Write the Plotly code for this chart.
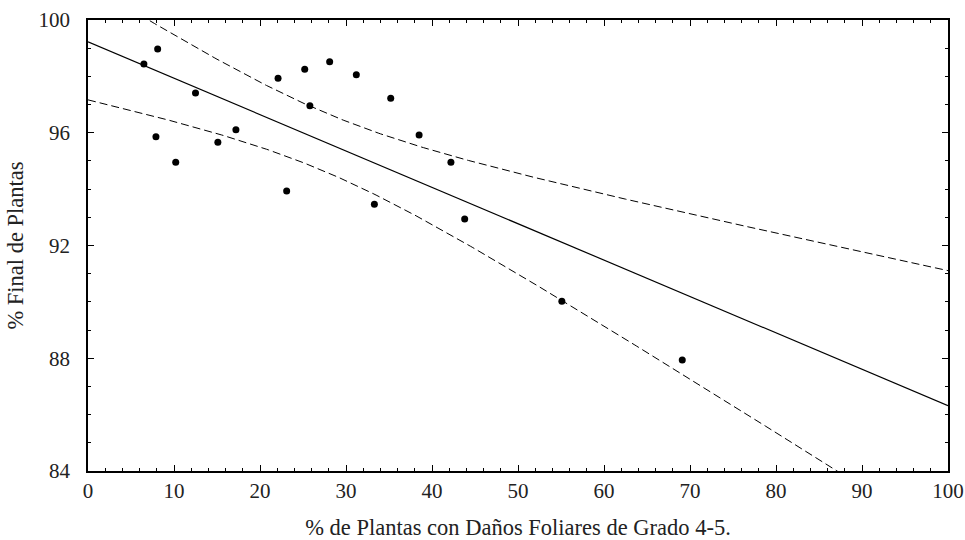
import numpy as np
import plotly.graph_objects as go

# Data
damage_pct = [6.5, 8.1, 12.5, 7.9, 10.2, 15.1, 17.2, 22.1, 23.1, 25.2,
              25.8, 28.1, 31.2, 35.2, 33.3, 38.5, 42.2, 43.8, 55.1, 69.1]
final_pct = [98.44, 98.97, 97.41, 95.86, 94.95, 95.66, 96.11, 97.93, 93.93, 98.25,
             96.96, 98.52, 98.06, 97.22, 93.46, 95.92, 94.95, 92.94, 90.02, 87.94]
x_ticks = [0, 10, 20, 30, 40, 50, 60, 70, 80, 90, 100]
y_ticks = [84, 88, 92, 96, 100]
band_multiplier = 2.33  # width of the confidence band

x = np.array(damage_pct)
y = np.array(final_pct)
n = len(x)
slope, intercept = np.polyfit(x, y, 1)
resid = y - (intercept + slope * x)
s = np.sqrt(np.sum(resid ** 2) / (n - 2))
sxx = np.sum((x - x.mean()) ** 2)
xg = np.linspace(0, 100, 401)
fit = intercept + slope * xg
half = band_multiplier * s * np.sqrt(1.0 / n + (xg - x.mean()) ** 2 / sxx)

font = "Liberation Serif"
fig = go.Figure()
fig.add_trace(go.Scatter(x=xg, y=fit + half, mode="lines",
                         line=dict(color="black", width=1, dash="8px,4px"), hoverinfo="skip"))
fig.add_trace(go.Scatter(x=xg, y=fit - half, mode="lines",
                         line=dict(color="black", width=1, dash="8px,4px"), hoverinfo="skip"))
fig.add_trace(go.Scatter(x=xg, y=fit, mode="lines",
                         line=dict(color="black", width=1.2), hoverinfo="skip"))
fig.add_trace(go.Scatter(x=damage_pct, y=final_pct, mode="markers",
                         marker=dict(color="black", size=7)))

axis_common = dict(showgrid=False, zeroline=False, showline=True, linecolor="black",
                   linewidth=1.5, mirror="ticks", ticks="inside", ticklen=6,
                   tickwidth=1, tickcolor="black", automargin=False,
                   ticklabeloverflow="allow",
                   tickfont=dict(family=font, size=21, color="#222"))
fig.update_xaxes(range=[0, 100], tickvals=x_ticks, ticklabelstandoff=0,
                 minor=dict(dtick=2, ticks="inside", ticklen=3, tickcolor="black"),
                 title=dict(text="% de Plantas con Daños Foliares de Grado 4-5.",
                            font=dict(family=font, size=22.5, color="#222"), standoff=23),
                 **axis_common)
fig.update_yaxes(range=[84, 100], tickvals=y_ticks, ticklabelstandoff=12,
                 minor=dict(dtick=1, ticks="inside", ticklen=3, tickcolor="black"),
                 title=dict(text="% Final de Plantas",
                            font=dict(family=font, size=22.5, color="#222"), standoff=9),
                 **axis_common)
fig.update_layout(width=965, height=540, showlegend=False,
                  plot_bgcolor="white", paper_bgcolor="white",
                  margin=dict(l=87.5, r=17.3, t=20, b=68.5))
# remove the browser's default 8px body margin so the figure fills the window
fig.write_html("out.html", config={"displayModeBar": False},
               post_script="document.body.style.margin='0';")
